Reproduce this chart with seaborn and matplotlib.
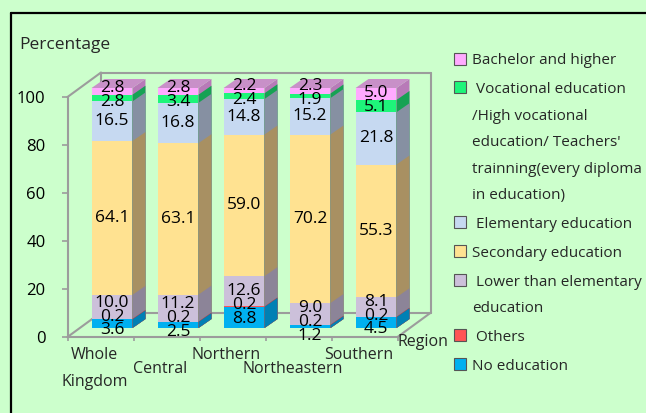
import numpy as np
import pandas as pd
import matplotlib
matplotlib.use("Agg")
import matplotlib.pyplot as plt
import matplotlib.transforms as mtransforms
from matplotlib.patches import Polygon, Rectangle
from matplotlib.lines import Line2D
import seaborn as sns

# ---------------- data ----------------
regions = ["Whole\nKingdom", "Central", "Northern", "Northeastern", "Southern"]
levels = ["No education", "Others", "Lower than elementary education",
          "Secondary education", "Elementary education",
          "Vocational education", "Bachelor and higher"]
no_education = [3.6, 2.5, 8.8, 1.2, 4.5]
others = [0.2, 0.2, 0.2, 0.2, 0.2]
lower_elementary = [10.0, 11.2, 12.6, 9.0, 8.1]
secondary = [64.1, 63.1, 59.0, 70.2, 55.3]
elementary = [16.5, 16.8, 14.8, 15.2, 21.8]
vocational = [2.8, 3.4, 2.4, 1.9, 5.1]
bachelor = [2.8, 2.8, 2.2, 2.3, 5.0]
yticks = [0, 20, 40, 60, 80, 100]
legend_labels = [
    "Bachelor and higher",
    " Vocational education\n/High vocational\neducation/ Teachers'\ntrainning(every diploma\nin education)",
    " Elementary education",
    "Secondary education",
    " Lower than elementary\neducation",
    " Others",
    "No education",
]
series = [no_education, others, lower_elementary, secondary, elementary, vocational, bachelor]

# ---------------- style ----------------
BG = "#CCFFCC"
front_c = ["#00B0F0", "#FF5555", "#CCC0DA", "#FFE291", "#C6D9F1", "#1EF57A", "#FFAAFF"]
side_c = ["#0080B4", "#CC3A3A", "#8C8498", "#A89062", "#8690A2", "#16A253", "#B87AB8"]
top_c = ["#40C0F0", "#E06060", "#B0A8BC", "#D8C080", "#A0AEC0", "#30C070", "#C890C8"]
legend_c = ["#FFAAFF", "#1EF57A", "#C6D9F1", "#FFE291", "#CCC0DA", "#FF5555", "#00B0F0"]
GREY = "#9C9C9C"

sns.set_style("white")
plt.rcParams["font.family"] = ["Open Sans", "DejaVu Sans"]

W, H = 646, 413
fig = plt.figure(figsize=(W / 100, H / 100), dpi=100, facecolor=BG)


def fx(px):
    return px / W


def fy(py):
    return 1 - py / H


ax = fig.add_axes([fx(67.5), fy(337), 330 / W, 240 / H])
ax.set_facecolor("none")

# long table
rows = []
cum = np.cumsum(np.array(series), axis=0)
for k, lev in enumerate(levels):
    for i, reg in enumerate(regions):
        rows.append({"region": reg, "level": lev, "value": series[k][i], "cum": cum[k, i]})
df = pd.DataFrame(rows)

off = mtransforms.ScaledTranslation(11.5 / 100, 9 / 100, fig.dpi_scale_trans)
tr = ax.transData + off
ddx = 13 / 66.0
ddy = 9 / 2.4

nlev = len(levels)
for k in reversed(range(nlev)):
    n0 = len(ax.patches)
    sns.barplot(data=df[df["level"] == levels[k]], x="region", y="cum", order=regions,
                color=front_c[k], saturation=1, width=0.62, linewidth=0,
                errorbar=None, ax=ax, zorder=3)
    new = list(ax.patches[n0:])
    for p in new:
        p.set_transform(tr)
        p.set_clip_on(False)
        x, w, h = p.get_x(), p.get_width(), p.get_height()
        ax.add_patch(Polygon([(x + w, 0), (x + w, h), (x + w + ddx, h + ddy), (x + w + ddx, ddy)],
                             closed=True, fc=side_c[k], ec="none", transform=tr,
                             clip_on=False, zorder=3))
        if k == nlev - 1:
            ax.add_patch(Polygon([(x, h), (x + w, h), (x + w + ddx, h + ddy), (x + ddx, h + ddy)],
                                 closed=True, fc=top_c[k], ec="none", transform=tr,
                                 clip_on=False, zorder=3))

# value labels (centered, with simple overlap relaxation)
min_gap = 5.8
for i in range(len(regions)):
    vals = [series[k][i] for k in range(nlev)]
    bottoms = np.concatenate([[0], cum[:-1, i]])
    mids = list(bottoms + np.array(vals) / 2)
    for _ in range(200):
        for j in range(len(mids) - 1):
            gap = mids[j + 1] - mids[j]
            if gap < min_gap:
                d = (min_gap - gap) / 2
                mids[j] -= d
                mids[j + 1] += d
    for k in range(nlev):
        ax.text(i, mids[k], f"{vals[k]:.1f}", transform=tr, ha="center", va="center",
                fontsize=12.5, color="black", zorder=6, clip_on=False)

ax.set_xlim(-0.5, 4.5)
ax.set_ylim(0, 100)
ax.set_xlabel("")
ax.set_ylabel("")

# wall / floor box
bx, by = 33.5 / 330, 24.5 / 240
box_lines = [
    [(0, 1), (bx, 1 + by)],
    [(0, 0), (bx, by)],
    [(1, 0), (1 + bx, by)],
    [(bx, 1 + by), (1 + bx, 1 + by)],
    [(1 + bx, 1 + by), (1 + bx, by)],
    [(bx, by), (1 + bx, by)],
    [(bx, by), (bx, 1 + by)],
]
for (x0, y0), (x1, y1) in box_lines:
    ax.add_line(Line2D([x0, x1], [y0, y1], transform=ax.transAxes, color=GREY, lw=1.5,
                       clip_on=False, zorder=0.5))

for s in ["top", "right"]:
    ax.spines[s].set_visible(False)
for s in ["left", "bottom"]:
    ax.spines[s].set_color(GREY)
    ax.spines[s].set_linewidth(1.5)
    ax.spines[s].set_zorder(0.6)

ax.set_yticks(yticks)
ax.set_yticklabels([str(t) for t in yticks])
ax.tick_params(axis="y", direction="out", length=4.3, width=1.2, color=GREY, pad=11.5,
               labelsize=12, labelcolor="black", left=True)
ax.set_xticks(np.arange(-0.5, 5, 1))
ax.set_xticklabels([])
ax.tick_params(axis="x", direction="out", length=2.9, width=1.2, color=GREY, bottom=True)

# category labels (staggered)
for i, reg in enumerate(regions):
    ypx = 347 if i % 2 == 0 else 361
    ax.annotate(reg, xy=(i, 0), xycoords="data", xytext=(-6, -(ypx - 337)),
                textcoords="offset pixels", ha="center", va="top", fontsize=11.5,
                linespacing=1.95, annotation_clip=False)

fig.text(fx(423), fy(342), "Region", ha="center", va="center", fontsize=11.5)
fig.text(fx(19), fy(49), "Percentage", ha="left", va="baseline", fontsize=12.5)

# frame
fig.add_artist(Line2D([fx(11), 1], [fy(12.5), fy(12.5)], transform=fig.transFigure,
                      color="black", lw=1.6))
fig.add_artist(Line2D([fx(11), fx(11)], [0, fy(12.5)], transform=fig.transFigure,
                      color="black", lw=1.6))

# legend (manual)
line_h = 26.4
item_gap = 2.5
line_idx = 0
for item, (lab, col) in enumerate(zip(legend_labels, legend_c)):
    lines = lab.split("\n")
    y0 = 61 + line_idx * line_h + item * item_gap
    fig.add_artist(Rectangle((fx(454), fy(y0 + 3.5)), 12 / W, 12 / H, transform=fig.transFigure,
                             fc=col, ec="#555555", lw=0.8))
    for j, ln in enumerate(lines):
        fig.text(fx(472), fy(y0 + j * line_h), ln, ha="left", va="center", fontsize=11)
    line_idx += len(lines)

fig.savefig("out.png", dpi=100, facecolor=BG)
